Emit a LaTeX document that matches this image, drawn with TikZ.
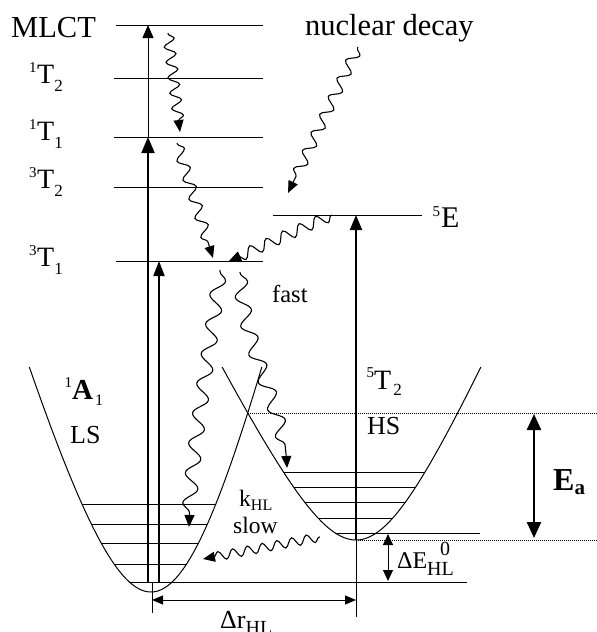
\documentclass[tikz,border=0pt]{standalone}
\usepackage{fontspec}
\setmainfont{Liberation Serif}
\usetikzlibrary{arrows.meta,decorations.pathmorphing}
\newcommand\fsz[1]{\fontsize{#1}{#1}\selectfont}
\newcommand\tlab[3]{\makebox[0pt][r]{\fsz{15}\raisebox{11pt}{#1}\hspace{0.5pt}}\fsz{28}#2\raisebox{-8pt}{\fsz{17}#3}}
\begin{document}
\begin{tikzpicture}[x=1pt,y=-1pt,
  lvl/.style={line width=1pt},
  thn/.style={line width=1pt},
  thk/.style={line width=2pt},
  lbl/.style={inner sep=0pt, anchor=base west},
  dotln/.style={line width=1pt, dash pattern=on 1pt off 1pt},
  wav/.style={line width=1.1pt, decorate,
    decoration={snake, segment length=#1, amplitude=5.5pt, pre length=1pt, post length=10pt},
    -{Triangle[length=12pt,width=10pt]}},
  wav/.default=15pt,
  curve/.style={line width=1pt},
]
\useasboundingbox (0,0) rectangle (597,632);
\clip (0,0) rectangle (597,632);

% ---------- electronic levels ----------
\coordinate (mlA) at (116,25);  \coordinate (mlB) at (263,25);
\coordinate (t12A) at (114,78); \coordinate (t12B) at (263,78);
\coordinate (t11A) at (114,137);\coordinate (t11B) at (263,137);
\coordinate (t32A) at (114,187);\coordinate (t32B) at (263,187);
\coordinate (t31A) at (116,261);\coordinate (t31B) at (263,261);
\coordinate (e5A) at (273,215); \coordinate (e5B) at (422,215);
\draw[lvl] (mlA) -- (mlB);
\draw[lvl] (t12A) -- (t12B);
\draw[lvl] (t11A) -- (t11B);
\draw[lvl] (t32A) -- (t32B);
\draw[lvl] (t31A) -- (t31B);
\draw[lvl] (e5A) -- (e5B);

% ---------- potential curves ----------
\draw[curve] plot[domain=-15:15, samples=121, smooth, variable=\t]
  ({151+\t*sqrt(45+0.067*(\t)*(\t))-0.024*(\t)*(\t)}, {592-(\t)*(\t)});
\draw[curve] plot[domain=-13.15:13.15, samples=121, smooth, variable=\t]
  ({356+\t*sqrt(58.7+0.22*(\t)*(\t))-0.026*(\t)*(\t)}, {540-(\t)*(\t)});

% LS vibrational levels
\draw[lvl] (82.0,504) -- (215.8,504);
\draw[lvl] (91.3,524) -- (207.4,524);
\draw[lvl] (101.2,543) -- (198.4,543);
\draw[lvl] (114.1,564) -- (186.5,564);
\coordinate (ls0A) at (129.4,582); \coordinate (ls0B) at (467,582);
\draw[lvl] (ls0A) -- (ls0B);
% HS vibrational levels
\draw[lvl] (283.4,472) -- (425.0,472);
\draw[lvl] (293.5,487) -- (415.7,487);
\draw[lvl] (304.5,502) -- (405.5,502);
\draw[lvl] (318.0,518) -- (392.8,518);
\coordinate (hs0A) at (335.3,533); \coordinate (hs0B) at (480,533);
\draw[lvl] (hs0A) -- (hs0B);

% dotted reference lines
\coordinate (cross) at (247.8,413); \coordinate (crossR) at (597,413);
\coordinate (hsmin) at (356,540);   \coordinate (hsminR) at (597,540);
\draw[dotln] (cross) -- (crossR);
\draw[dotln] (hsmin) -- (hsminR);

% ---------- vertical excitation arrows ----------
\coordinate (v1b) at (148,582); \coordinate (v1t) at (148,137); \coordinate (v1tt) at (148,25);
\coordinate (v2b) at (159,582); \coordinate (v2t) at (159,261);
\coordinate (v3t) at (356,215); \coordinate (v3bot) at (356,617);
\draw[thk,-{Triangle[length=16pt,width=13pt]}] (v1b) -- (v1t);
\draw[thn,-{Triangle[length=13pt,width=11pt]}] (v1t) -- (v1tt);
\draw[thk,-{Triangle[length=15pt,width=11pt]}] (v2b) -- (v2t);
\draw[thk,-{Triangle[length=15pt,width=12pt]}] (hsmin) -- (v3t);
\draw[thn] (hsmin) -- (v3bot);

% LS minimum tick and Delta r arrow
\coordinate (lstA) at (152,582); \coordinate (lstB) at (152,613);
\draw[thn] (lstA) -- (lstB);
\coordinate (drA) at (152,600); \coordinate (drB) at (356,600);
\draw[thn,{Triangle[length=11pt,width=9pt]}-{Triangle[length=11pt,width=9pt]}] (drA) -- (drB);

% Delta E arrow
\coordinate (deA) at (388,581); \coordinate (deB) at (388,534);
\draw[thn,{Triangle[length=11pt,width=10pt]}-{Triangle[length=11pt,width=10pt]}] (deA) -- (deB);

% E_a arrow
\coordinate (eaA) at (534,538); \coordinate (eaB) at (534,414);
\draw[line width=2.4pt,{Triangle[length=16pt,width=14pt]}-{Triangle[length=16pt,width=14pt]}] (eaA) -- (eaB);

% ---------- wavy relaxation arrows ----------
\coordinate (s1a) at (168,33);  \coordinate (s1b) at (180,132);
\coordinate (s2a) at (177,143); \coordinate (s2b) at (213,258);
\coordinate (s3a) at (332,215); \coordinate (s3b) at (229,261);
\coordinate (s4a) at (358,47);  \coordinate (s4b) at (288,193);
\coordinate (s5a) at (220,270); \coordinate (s5b) at (189,527);
\coordinate (s6a) at (240,272); \coordinate (s6b) at (287,468);
\coordinate (s7a) at (320,537); \coordinate (s7b) at (203,559);
\draw[wav=15.5pt] (s1a) -- (s1b);
\draw[wav=20pt] (s2a) -- (s2b);
\draw[wav=18pt] (s3a) -- (s3b);
\draw[wav=20pt] (s4a) -- (s4b);
\draw[wav=30pt,decoration={amplitude=7pt}] (s5a) .. controls (210,350) and (192,440) .. (s5b);
\draw[wav=29pt,decoration={amplitude=7pt}] (s6a) .. controls (245,350) and (285,400) .. (s6b);
\draw[wav=15pt,decoration={amplitude=4.5pt}] (s7a) -- (s7b);

% ---------- labels ----------
\node[lbl,font=\fsz{30.5}] (mlct) at (11,37) {MLCT};
\node[lbl,font=\fsz{30.5}] (nd) at (305,35) {nuclear decay};
\node[lbl] (t12) at (37,83) {\tlab{1}{T}{2}};
\node[lbl] (t11) at (37,140) {\tlab{1}{T}{1}};
\node[lbl] (t32) at (37,188) {\tlab{3}{T}{2}};
\node[lbl] (t31) at (37,266) {\tlab{3}{T}{1}};
\node[lbl] (e5) at (441,227) {\makebox[0pt][r]{\fsz{15}\raisebox{11pt}{5}\hspace{1pt}}\fsz{30}E};
\node[lbl] (a1) at (72,399) {\makebox[0pt][r]{\fsz{15}\raisebox{12pt}{1}}\fsz{29}\textbf{A}\hspace{2pt}\raisebox{-6pt}{\fsz{16}1}};
\node[lbl,font=\fsz{26}] (ls) at (70,443) {LS};
\node[lbl] (t52) at (374,389) {\makebox[0pt][r]{\fsz{15}\raisebox{12pt}{5}}\fsz{28}T\hspace{2pt}\raisebox{-6pt}{\fsz{17}2}};
\node[lbl,font=\fsz{26}] (hs) at (367,434) {HS};
\node[lbl,font=\fsz{24.5}] (fast) at (272,302) {fast};
\node[lbl,font=\fsz{23.5}] (khl) at (239,506) {k\raisebox{-4pt}{\fsz{16}HL}};
\node[lbl,font=\fsz{23.5}] (slow) at (233,533) {slow};
\node[lbl,font=\fsz{24}] (de) at (397,568) {ΔE};
\node[lbl,font=\fsz{20}] (dehl) at (427,575) {HL};
\node[lbl,font=\fsz{20}] (de0) at (440,555) {0};
\node[lbl,font=\bfseries\fsz{32}] (ea) at (553,490) {E\raisebox{-4pt}{\fsz{21}a}};
\node[lbl,font=\fsz{26}] (dr) at (220,628) {Δr\raisebox{-6pt}{\fsz{20}HL}};
\end{tikzpicture}
\end{document}
